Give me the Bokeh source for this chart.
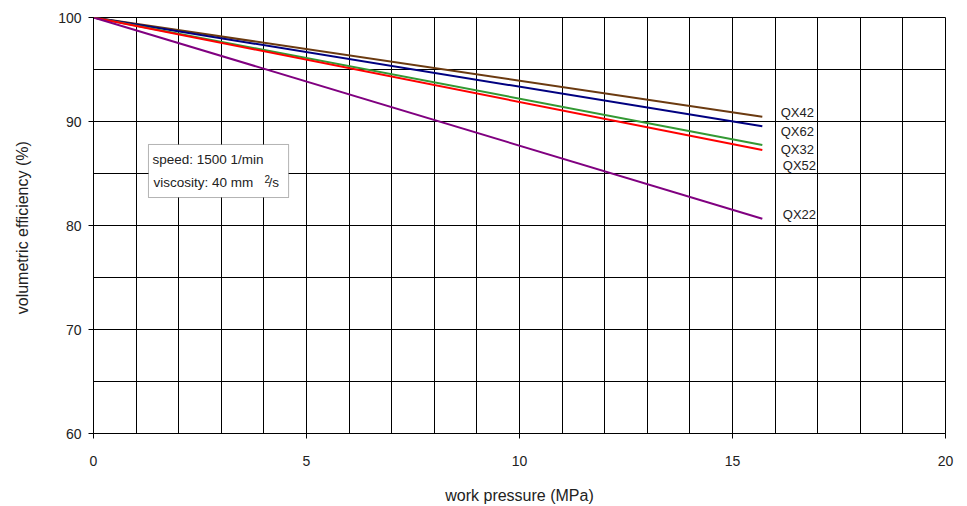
from bokeh.plotting import figure
from bokeh.models import FixedTicker, Range1d, Label, BoxAnnotation
from bokeh.embed import file_html
from bokeh.resources import INLINE

# ---- data ----
pressure = [0, 15.7]
qx42 = [100, 90.45]
qx62 = [100, 89.55]
qx32 = [100, 87.75]
qx52 = [100, 87.25]
qx22 = [100, 80.65]
series_names = ["QX42", "QX62", "QX32", "QX52", "QX22"]
x_ticks = [0, 5, 10, 15, 20]
y_ticks = [60, 70, 80, 90, 100]
x_grid = list(range(0, 21))
y_grid = list(range(60, 101, 5))
note_speed = "speed: 1500 1/min"
note_visc = "viscosity: 40 mm"
note_sup = "2"
note_unit = "/s"

FONT = "Liberation Sans"

p = figure(width=957, height=506, output_backend="svg", toolbar_location=None,
           x_range=Range1d(0, 20), y_range=Range1d(60, 100),
           min_border_left=93, min_border_right=12, min_border_top=17, min_border_bottom=73)
p.background_fill_color = "white"
p.border_fill_color = "white"
p.outline_line_color = "black"
p.outline_line_width = 1

# axes
p.xaxis.ticker = FixedTicker(ticks=x_ticks)
p.yaxis.ticker = FixedTicker(ticks=y_ticks)
for ax in (p.xaxis[0], p.yaxis[0]):
    ax.axis_line_color = "black"
    ax.major_tick_line_color = "black"
    ax.major_tick_out = 5
    ax.major_tick_in = 0
    ax.minor_tick_line_color = None
    ax.major_label_text_font = FONT
    ax.major_label_text_font_size = "14px"
    ax.major_label_text_color = "#222222"
    ax.axis_label_text_font = FONT
    ax.axis_label_text_font_size = "16px"
    ax.axis_label_text_font_style = "normal"
    ax.axis_label_text_color = "#222222"
p.xaxis.axis_label = "work pressure (MPa)"
p.yaxis.axis_label = "volumetric efficiency  (%)"
p.xaxis.major_label_standoff = 17
p.yaxis.major_label_standoff = 7
p.xaxis.axis_label_standoff = 18
p.yaxis.axis_label_standoff = 24

# grid
p.xgrid.ticker = FixedTicker(ticks=x_grid)
p.ygrid.ticker = FixedTicker(ticks=y_grid)
for g in (p.xgrid[0], p.ygrid[0]):
    g.grid_line_color = "black"
    g.grid_line_width = 1
    g.grid_line_alpha = 1.0

# series
colors = ["#6B3A10", "#000080", "#339933", "#FF0000", "#800080"]
values = [qx42, qx62, qx32, qx52, qx22]
for vals, c in zip(values, colors):
    p.line(pressure, vals, line_color=c, line_width=2)

# series labels (positions)
label_pos = [(16.13, 90.87), (16.13, 89.04), (16.13, 87.31), (16.18, 85.77), (16.18, 81.01)]
for name, (lx, ly) in zip(series_names, label_pos):
    p.add_layout(Label(x=lx, y=ly, text=name, text_font=FONT, text_font_size="13px",
                       text_baseline="middle", text_align="left", text_color="#222222"))

# note box
p.add_layout(BoxAnnotation(left=1.29, right=4.58, bottom=82.69, top=87.79,
                           fill_color="white", fill_alpha=1.0,
                           line_color="black", line_width=1))
p.add_layout(Label(x=1.385, y=86.35, text=note_speed, text_font=FONT, text_font_size="13.5px",
                   text_baseline="middle", text_align="left", text_color="#222222"))
p.add_layout(Label(x=1.408, y=84.09, text=note_visc, text_font=FONT, text_font_size="13.5px",
                   text_baseline="middle", text_align="left", text_color="#222222"))
p.add_layout(Label(x=4.014, y=84.45, text=note_sup, text_font=FONT, text_font_size="10px",
                   text_baseline="middle", text_align="left", text_color="#222222"))
p.add_layout(Label(x=4.108, y=84.09, text=note_unit, text_font=FONT, text_font_size="13.5px",
                   text_baseline="middle", text_align="left", text_color="#222222"))

open("out.html", "w").write(file_html(p, INLINE))
